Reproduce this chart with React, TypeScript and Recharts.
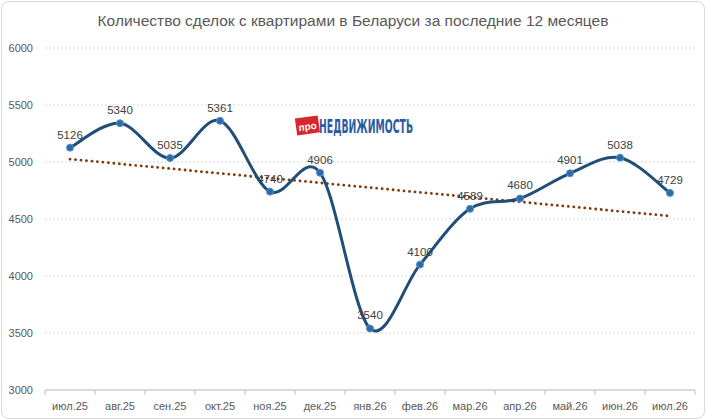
import React from "react";
import { LineChart, Line, XAxis, YAxis, CartesianGrid, LabelList } from "recharts";

const months = ["июл.25", "авг.25", "сен.25", "окт.25", "ноя.25", "дек.25", "янв.26", "фев.26", "мар.26", "апр.26", "май.26", "июн.26", "июл.26"];
const deals = [5126, 5340, 5035, 5361, 4740, 4906, 3540, 4100, 4589, 4680, 4901, 5038, 4729];
const yTicks = [3000, 3500, 4000, 4500, 5000, 5500, 6000];
const title = "Количество сделок с квартирами в Беларуси за последние 12 месяцев";

// linear least-squares trend, as Excel's linear trendline
const n = deals.length;
const mx = (n - 1) / 2;
const my = deals.reduce((a, b) => a + b, 0) / n;
let sxy = 0, sxx = 0;
deals.forEach((v, i) => { sxy += (i - mx) * (v - my); sxx += (i - mx) * (i - mx); });
const slope = sxy / sxx;
const icpt = my - slope * mx;

const data = months.map((m, i) => ({ month: m, deals: deals[i], trend: icpt + slope * i }));

// Excel-like smoothing curve (Catmull-Rom via cubic Bézier, 1/6 tension)
function excelCurve(context: any) {
  let pts: number[][] = [];
  return {
    areaStart() {},
    areaEnd() {},
    lineStart() { pts = []; },
    point(x: number, y: number) { pts.push([+x, +y]); },
    lineEnd() {
      if (!pts.length) return;
      context.moveTo(pts[0][0], pts[0][1]);
      for (let i = 0; i < pts.length - 1; i++) {
        const p0 = pts[i - 1] || pts[i];
        const p1 = pts[i];
        const p2 = pts[i + 1];
        const p3 = pts[i + 2] || pts[i + 1];
        const c1x = p1[0] + (p2[0] - p0[0]) / 6;
        const c1y = p1[1] + (p2[1] - p0[1]) / 6;
        const c2x = p2[0] - (p3[0] - p1[0]) / 6;
        const c2y = p2[1] - (p3[1] - p1[1]) / 6;
        context.bezierCurveTo(c1x, c1y, c2x, c2y, p2[0], p2[1]);
      }
    },
  };
}

const FONT = "'Liberation Sans', Arial, sans-serif";
const W = 706;
const H = 420;
const XH = 30;
const M = { top: 48, right: 11, bottom: 0, left: 0 };
const YW = 45;
const band = (W - M.left - M.right - YW) / months.length;

const XTick = (props: any) => {
  const { x, payload, index } = props;
  const axisY = H - M.bottom - XH;
  return (
    <g>
      <line x1={x - band / 2} x2={x - band / 2} y1={axisY} y2={axisY + 5} stroke="#bfbfbf" />
      {index === months.length - 1 && (
        <line x1={x + band / 2} x2={x + band / 2} y1={axisY} y2={axisY + 5} stroke="#bfbfbf" />
      )}
      <text x={x} y={axisY + 20} textAnchor="middle" fontSize={11} fill="#595959" fontFamily={FONT}>
        {payload.value}
      </text>
    </g>
  );
};

const Logo = () => (
  <svg width={220} height={34} style={{ position: "absolute", left: 292, top: 108, overflow: "visible" }}>
    <g transform="rotate(-8 15 18)">
      <rect x={4} y={9} width={23} height={17} fill="#d6262e" />
      <text x={15.5} y={22} textAnchor="middle" fontSize={10} fontWeight="bold" fill="#fff" fontFamily={FONT}>про</text>
    </g>
    <text x={27} y={25} fontSize={19} fontWeight="bold" fill="#2a5d9f" fontFamily="'DejaVu Sans', sans-serif"
      textLength={94} lengthAdjust="spacingAndGlyphs">НЕДВИЖИМОСТЬ</text>
  </svg>
);

export default function App() {
  return (
    <div style={{ position: "relative", width: W, height: H, background: "#fff", fontFamily: FONT }}>
      <style>{"body{margin:0;background:#fff}"}</style>
      <div style={{ position: "absolute", left: 1, top: 1, width: W - 4, height: H - 4, border: "1px solid #d9d9d9", borderRadius: 8 }} />
      <div style={{ position: "absolute", left: 0, top: 12, width: W, textAlign: "center", fontSize: 15.5, color: "#595959", fontFamily: FONT }}>
        {title}
      </div>
      <LineChart width={W} height={H} data={data} margin={M}>
        <CartesianGrid vertical={false} stroke="#d9d9d9" strokeDasharray="2 2" />
        <XAxis dataKey="month" scale="band" height={XH} tickLine={false} axisLine={{ stroke: "#bfbfbf" }} tick={<XTick />} interval={0} />
        <YAxis width={YW} domain={[3000, 6000]} ticks={yTicks} tickLine={false} axisLine={false}
          tick={{ fontSize: 11, fill: "#595959", fontFamily: FONT }} tickMargin={6} />
        <Line dataKey="trend" type="linear" stroke="#843c0c" strokeWidth={2.8} strokeDasharray="0.1 5.4"
          strokeLinecap="round" dot={false} isAnimationActive={false} />
        <Line dataKey="deals" type={excelCurve as any} stroke="#1f4e79" strokeWidth={3}
          dot={{ r: 3.5, fill: "#2e6aa8", stroke: "#4f8fd0", strokeWidth: 1 }} activeDot={false} isAnimationActive={false}>
          <LabelList dataKey="deals" position="top" offset={9} fontSize={11.5} fill="#404040" fontFamily={FONT} />
        </Line>
      </LineChart>
      <Logo />
    </div>
  );
}
